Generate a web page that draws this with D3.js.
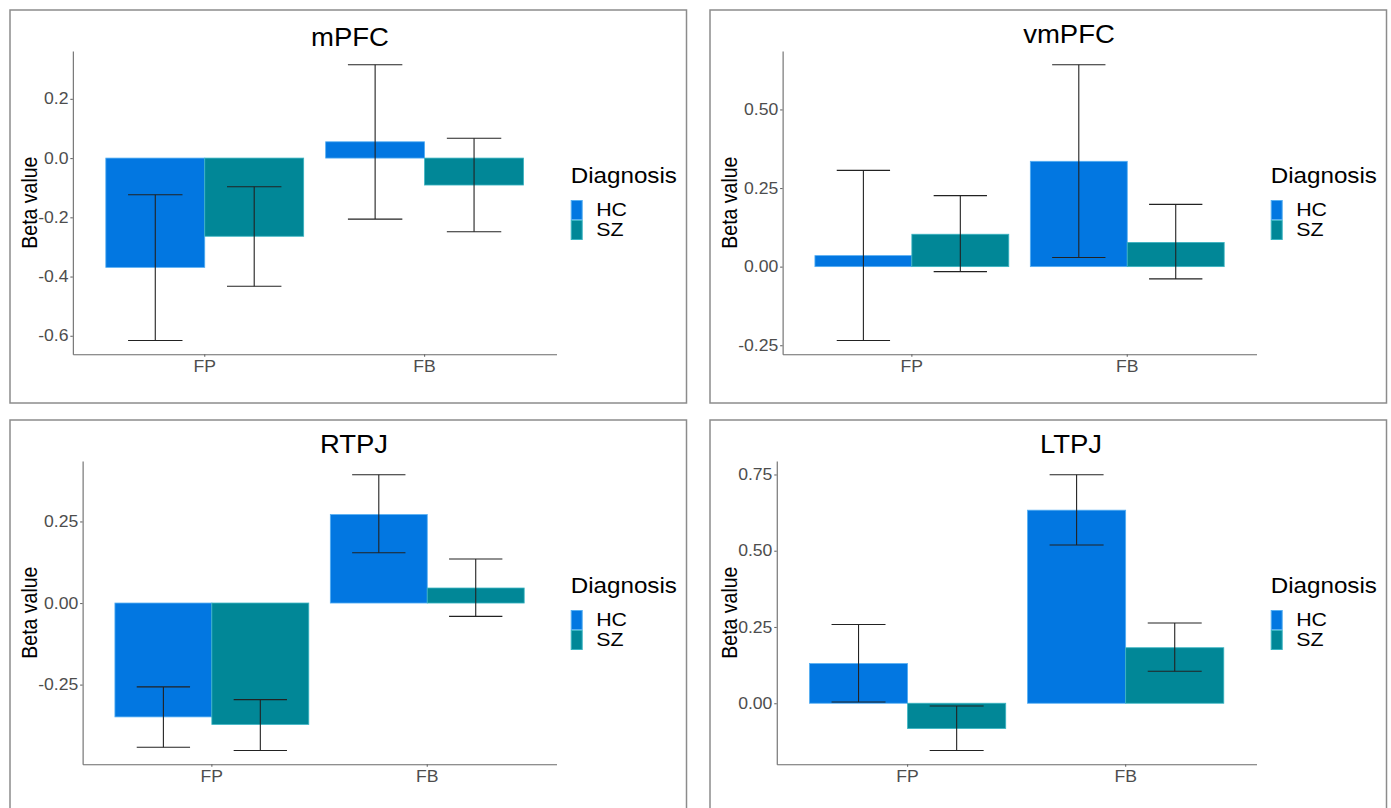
<!DOCTYPE html>
<html>
<head>
  <meta charset="utf-8">
  <title>Beta values by region</title>
  <script src="https://d3js.org/d3.v7.min.js"></script>
  <style>
    body { margin: 0; background: #fff; }
    text { font-family: "Liberation Sans", Arial, sans-serif; }
    .frame { fill: none; stroke: #8c8c8c; stroke-width: 1.5px; }
    .axis path, .axis line { stroke: #6a6a6a; stroke-width: 1.1px; }
    .axis text { fill: #4d4d4d; font-size: 16px; }
    .err { stroke: #222; stroke-width: 1.1px; fill: none; }
  </style>
</head>
<body>
  <svg width="1391" height="808"></svg>

  <script>
    // data
    const regions = ["mPFC", "vmPFC", "RTPJ", "LTPJ"];
    const conditions = ["FP", "FB"];
    const groups = ["HC", "SZ"];

    // means per region: [FP, FB]
    const hcMean = [[-0.369, 0.055], [0.035, 0.335], [-0.349, 0.271], [0.130, 0.633]];
    const szMean = [[-0.264, -0.091], [0.103, 0.077], [-0.372, 0.046], [-0.083, 0.182]];
    // error bar ends
    const hcLow  = [[-0.616, -0.206], [-0.235, 0.029], [-0.442, 0.154], [0.004, 0.519]];
    const hcHigh = [[-0.124, 0.315], [0.306, 0.642], [-0.257, 0.393], [0.258, 0.749]];
    const szLow  = [[-0.433, -0.249], [-0.016, -0.039], [-0.452, -0.041], [-0.155, 0.105]];
    const szHigh = [[-0.097, 0.067], [0.226, 0.198], [-0.296, 0.135], [-0.009, 0.263]];

    const yTicks = [[-0.6, -0.4, -0.2, 0, 0.2], [-0.25, 0, 0.25, 0.5], [-0.25, 0, 0.25], [0, 0.25, 0.5, 0.75]];
    const tickDigits = [1, 2, 2, 2];

    // layout
    const boxes = [{x: 10, y: 10}, {x: 710, y: 10}, {x: 10, y: 420}, {x: 710, y: 420}];
    const titleDX = [340, 359, 344, 361];
    const titleDY = [36, 33, 33, 33];
    const boxW = 676.5, boxH = 393;
    const SX = 1.1; // the figure is a bit wider than the font
    const colors = {HC: "#0277e1", SZ: "#018797"};
    const edges = {HC: "#55aef2", SZ: "#3bb4c2"};

    const svg = d3.select("svg");

    function measure(str, size) {
      const t = svg.append("text").attr("font-size", size).text(str);
      const w = t.node().getComputedTextLength();
      t.remove();
      return w * SX;
    }

    function fmt(digits) {
      return d => d3.format("." + digits + "f")(d).replace("−", "-");
    }

    regions.forEach((region, i) => {
      const b = boxes[i];
      const g = svg.append("g");

      g.append("rect").attr("class", "frame")
        .attr("x", b.x).attr("y", b.y).attr("width", boxW).attr("height", boxH);

      const f = fmt(tickDigits[i]);
      const labW = d3.max(yTicks[i], t => measure(f(t), 16));
      const left = b.x + 28.5 + labW + 4;
      const right = b.x + 546.5;
      const top = b.y + 41;
      const bottom = b.y + 344.3;

      const rows = conditions.map((c, j) => ({
        cond: c,
        vals: [
          {grp: "HC", mean: hcMean[i][j], lo: hcLow[i][j], hi: hcHigh[i][j]},
          {grp: "SZ", mean: szMean[i][j], lo: szLow[i][j], hi: szHigh[i][j]}
        ]
      }));

      const ymin = d3.min(rows, r => d3.min(r.vals, v => Math.min(v.lo, v.mean, 0)));
      const ymax = d3.max(rows, r => d3.max(r.vals, v => Math.max(v.hi, v.mean, 0)));
      const pad = (ymax - ymin) * 0.05;

      const y = d3.scaleLinear().domain([ymin - pad, ymax + pad]).range([bottom, top]);
      const x0 = d3.scaleBand().domain(conditions).range([left, right])
        .paddingInner(0.1).paddingOuter(0.15);
      const x1 = d3.scaleBand().domain(groups).range([0, x0.bandwidth()]);

      const cg = g.selectAll(".cond").data(rows).enter().append("g")
        .attr("transform", d => `translate(${x0(d.cond)},0)`);

      cg.selectAll("rect").data(d => d.vals).enter().append("rect")
        .attr("x", d => x1(d.grp))
        .attr("width", x1.bandwidth())
        .attr("y", d => y(Math.max(0, d.mean)))
        .attr("height", d => Math.abs(y(d.mean) - y(0)))
        .attr("fill", d => colors[d.grp])
        .attr("stroke", d => edges[d.grp])
        .attr("stroke-width", 0.8);

      const capW = x1.bandwidth() * 0.55;
      const eg = cg.selectAll(".eb").data(d => d.vals).enter().append("g")
        .attr("transform", d => `translate(${x1(d.grp) + x1.bandwidth() / 2},0)`);
      eg.append("line").attr("class", "err")
        .attr("x1", 0).attr("x2", 0).attr("y1", d => y(d.hi)).attr("y2", d => y(d.lo));
      eg.append("line").attr("class", "err")
        .attr("x1", -capW / 2).attr("x2", capW / 2).attr("y1", d => y(d.hi)).attr("y2", d => y(d.hi));
      eg.append("line").attr("class", "err")
        .attr("x1", -capW / 2).attr("x2", capW / 2).attr("y1", d => y(d.lo)).attr("y2", d => y(d.lo));

      // axes
      const ya = g.append("g").attr("class", "axis")
        .attr("transform", `translate(${left},0)`)
        .call(d3.axisLeft(y).tickValues(yTicks[i]).tickFormat(f)
          .tickSizeInner(2.5).tickSizeOuter(0).tickPadding(1.5));
      ya.selectAll("text").attr("transform", `scale(${SX},1)`);

      const xa = g.append("g").attr("class", "axis")
        .attr("transform", `translate(0,${bottom})`)
        .call(d3.axisBottom(x0).tickSizeInner(2.5).tickSizeOuter(0).tickPadding(4));
      xa.selectAll("text").attr("transform", `scale(${SX},1)`);

      // y title
      g.append("text")
        .attr("transform", `translate(${b.x + 19},${(top + bottom) / 2}) rotate(-90) scale(1,${SX})`)
        .attr("dy", "0.35em")
        .attr("text-anchor", "middle")
        .attr("font-size", 19.5)
        .attr("fill", "#000")
        .text("Beta value");

      // title
      g.append("text")
        .attr("transform", `translate(${b.x + titleDX[i]},${b.y + titleDY[i]}) scale(${SX},1)`)
        .attr("text-anchor", "middle")
        .attr("font-size", 25)
        .attr("fill", "#000")
        .text(region);

      // legend
      const lx = b.x + 560.7;
      g.append("text")
        .attr("transform", `translate(${lx},${b.y + 173}) scale(${SX},1)`)
        .attr("font-size", 22)
        .text("Diagnosis");

      const lg = g.selectAll(".key").data(groups).enter().append("g")
        .attr("transform", (d, k) => `translate(${lx},${b.y + 190 + k * 20})`);
      lg.append("rect")
        .attr("x", 0.5).attr("y", 0.5).attr("width", 11).attr("height", 19)
        .attr("fill", d => colors[d])
        .attr("stroke", d => edges[d])
        .attr("stroke-width", 1);
      lg.append("text")
        .attr("transform", `translate(25.5,10) scale(1.2,1)`)
        .attr("dy", "0.36em")
        .attr("font-size", 17.8)
        .text(d => d);
    });
  </script>
</body>
</html>
